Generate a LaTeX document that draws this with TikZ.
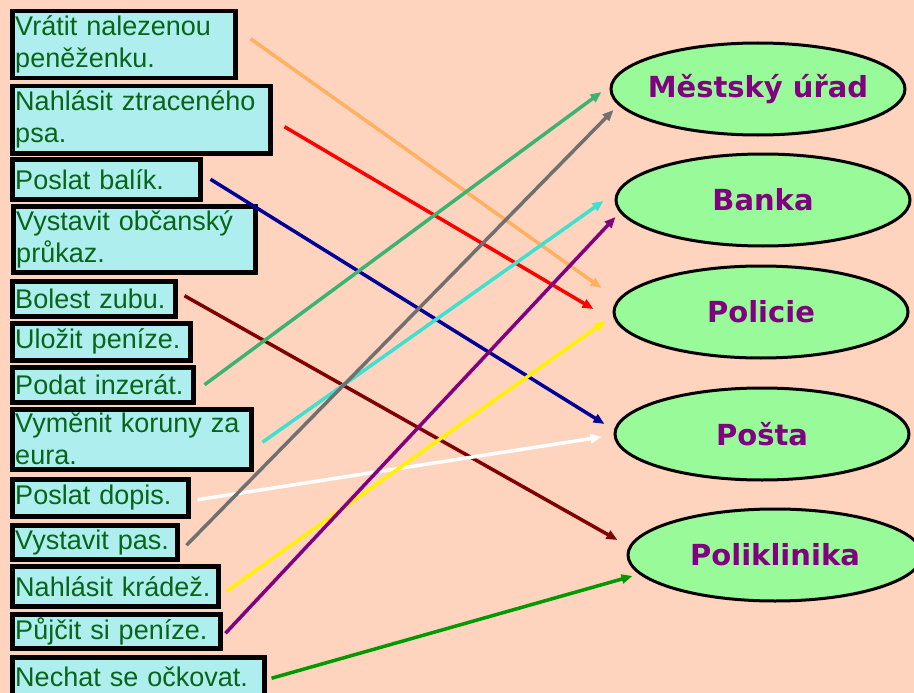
\documentclass[tikz,border=0pt]{standalone}
\usepackage{fontspec}
\usepackage{tikz}
\usetikzlibrary{arrows.meta,shapes.geometric}
\newfontfamily\arialfam{Liberation Sans}
\newfontfamily\roundfam{DejaVu Sans}
\definecolor{peach}{HTML}{FFD4BE}
\definecolor{boxcyan}{HTML}{AFEEEE}
\definecolor{boxgreen}{HTML}{086418}
\definecolor{placegreen}{HTML}{99FA99}
\definecolor{placepurple}{HTML}{800080}
\definecolor{sandy}{HTML}{FFB060}
\definecolor{navyline}{HTML}{000099}
\definecolor{seagreen}{HTML}{3CB371}
\definecolor{grayline}{HTML}{707070}
\definecolor{turq}{HTML}{40E0D0}
\definecolor{maroonline}{HTML}{800000}
\definecolor{greenline}{HTML}{009900}
\newcommand{\itemfont}{\arialfam\fontsize{27pt}{32pt}\selectfont}
\newcommand{\placefont}{\roundfam\bfseries\fontsize{29pt}{34pt}\selectfont}
\newcommand{\placename}[1]{\makebox[0pt]{#1}}

\begin{document}
\begin{tikzpicture}[
  x=1pt,y=-1pt,
  item/.style={draw=black,line width=4.5pt,fill=boxcyan,text=boxgreen,font=\itemfont,
    align=left,anchor=north west,inner xsep=3pt,inner ysep=2pt},
  place/.style={ellipse,draw=black,line width=3pt,fill=placegreen,text=placepurple,
    font=\placefont,minimum width=294pt,minimum height=92pt},
  arr/.style={-{Triangle[length=11pt,width=9pt]},line width=3.5pt}
]
\useasboundingbox (0,0) rectangle (914,693);
\fill[peach] (0,0) rectangle (914,693);
% tasks
\node[item,text width=217pt,minimum height=67pt] (vratit) at (10,9) {Vrátit nalezenou\\peněženku.};
\node[item,text width=252pt,minimum height=67pt] (psa) at (10,84) {Nahlásit ztraceného\\psa.};
\node[item,text width=182pt,minimum height=40pt] (balik) at (10,157) {Poslat balík.};
\node[item,text width=236pt,minimum height=66pt] (prukaz) at (11,204) {Vystavit občanský\\průkaz.};
\node[item,text width=157pt,minimum height=35pt] (zub) at (10,279) {Bolest zubu.};
\node[item,text width=172pt,minimum height=37pt] (penize) at (10,321) {Uložit peníze.};
\node[item,text width=175pt,minimum height=35pt] (inzerat) at (10,365) {Podat inzerát.};
\node[item,text width=233pt,minimum height=60pt] (koruny) at (10,407) {Vyměnit koruny za\\eura.};
\node[item,text width=170pt,minimum height=37pt] (dopis) at (10,477) {Poslat dopis.};
\node[item,text width=159pt,minimum height=34pt] (pas) at (10,523) {Vystavit pas.};
\node[item,text width=200pt,minimum height=40pt] (kradez) at (10,564) {Nahlásit krádež.};
\node[item,text width=202pt,minimum height=34pt] (pujcit) at (10,612) {Půjčit si peníze.};
\node[item,text width=246pt,minimum height=40pt] (ockovat) at (10,655) {Nechat se očkovat.};
% places
\node[place] (urad) at (758,89) {\placename{Městský úřad}};
\node[place] (banka) at (763,200) {\placename{Banka}};
\node[place] (policie) at (761,312) {\placename{Policie}};
\node[place] (posta) at (762,434) {\placename{Pošta}};
\node[place] (poliklinika) at (775,555) {\placename{Poliklinika}};
% arrows
\draw[arr,sandy] ([shift={(13,-6)}]vratit.east) -- ([shift={(-11,-24)}]policie.west);
\draw[arr,red] ([shift={(12,7)}]psa.east) -- ([shift={(-19,-3)}]policie.west);
\draw[arr,navyline] ([shift={(8,0)}]balik.east) -- ([shift={(-9,-10)}]posta.west);
\draw[arr,maroonline] ([shift={(7,-3)}]zub.east) -- ([shift={(-9,-15)}]poliklinika.west);
\draw[arr,seagreen] ([shift={(9,0)}]inzerat.east) -- ([shift={(-8,3)}]urad.west);
\draw[arr,turq] ([shift={(9,3)}]koruny.east) -- ([shift={(-11,1)}]banka.west);
\draw[arr,white] ([shift={(7,2)}]dopis.east) -- ([shift={(-12,3)}]posta.west);
\draw[arr,grayline] ([shift={(7,3)}]pas.east) -- ([shift={(4,21)}]urad.west);
\draw[arr,yellow] ([shift={(6,5)}]kradez.east) -- ([shift={(-7,9)}]policie.west);
\draw[arr,placepurple] ([shift={(3,2)}]pujcit.east) -- ([shift={(1,17)}]banka.west);
\draw[arr,greenline] ([shift={(5,1)}]ockovat.east) -- ([shift={(6,21)}]poliklinika.west);
\end{tikzpicture}
\end{document}
